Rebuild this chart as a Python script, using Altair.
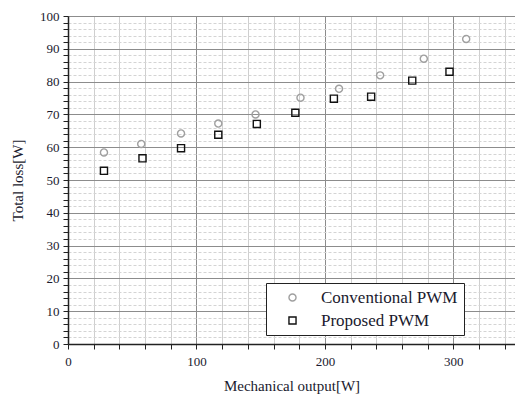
import altair as alt
import pandas as pd

conv_x = [28, 57, 88, 117, 146, 181, 211, 243, 277, 310]
conv_y = [58.4, 61.0, 64.2, 67.2, 70.0, 75.1, 77.8, 81.9, 87.0, 93.0]
prop_x = [28, 58, 88, 117, 147, 177, 207, 236, 268, 297]
prop_y = [52.8, 56.6, 59.7, 63.8, 67.1, 70.5, 74.8, 75.4, 80.3, 83.0]
series = ["Conventional PWM", "Proposed PWM"]
x_ticks = list(range(0, 341, 20))
y_ticks = list(range(0, 101, 2))

rows = [{"x": a, "y": b, "s": series[0]} for a, b in zip(conv_x, conv_y)]
rows += [{"x": a, "y": b, "s": series[1]} for a, b in zip(prop_x, prop_y)]
df = pd.DataFrame(rows)

FONT = "'Liberation Serif', 'Times New Roman', 'DejaVu Serif', serif"
TXT = "#1a1a2e"

xaxis = alt.Axis(
    values=x_ticks,
    labelExpr="datum.value % 100 === 0 ? datum.label : ''",
    title="Mechanical output[W]",
    grid=True,
    gridColor={"condition": {"test": "datum.value % 100 === 0", "value": "#8c8c8c"}, "value": "#cfcfcf"},
    gridWidth=1,
    tickSize=5,
    tickColor="#222",
    domainColor="#222",
    domainWidth=1.5,
    labelFont=FONT, labelFontSize=13, labelColor=TXT, labelPadding=6,
    titleFont=FONT, titleFontSize=15, titleFontWeight="normal", titleColor=TXT, titlePadding=10,
    labelFlush=False,
)
yaxis = alt.Axis(
    values=y_ticks,
    labelExpr="datum.value % 10 === 0 ? datum.label : ''",
    title="Total loss[W]",
    grid=True,
    gridColor={"condition": {"test": "datum.value % 10 === 0", "value": "#8c8c8c"}, "value": "#d4d4d4"},
    gridDash={"condition": {"test": "datum.value % 10 === 0", "value": []}, "value": [3, 2]},
    gridWidth=1,
    tickSize=5,
    tickColor="#222",
    domainColor="#222",
    domainWidth=1.5,
    labelFont=FONT, labelFontSize=13, labelColor=TXT, labelPadding=4,
    titleFont=FONT, titleFontSize=15, titleFontWeight="normal", titleColor=TXT, titlePadding=14,
    labelFlush=False,
)

leg = dict(title=None, orient="none", legendX=198, legendY=267,
           strokeColor="#222", fillColor="white", padding=6,
           symbolOffset=12, labelOffset=20, rowPadding=5,
           labelFont=FONT, labelFontSize=17, labelColor=TXT,
           symbolSize=50, symbolStrokeWidth=1.4, labelLimit=300)

chart = alt.Chart(df).mark_point(filled=False, size=50, strokeWidth=1.4, opacity=1).encode(
    x=alt.X("x:Q", scale=alt.Scale(domain=[0, 348], nice=False), axis=xaxis),
    y=alt.Y("y:Q", scale=alt.Scale(domain=[0, 100], nice=False), axis=yaxis),
    shape=alt.Shape("s:N", scale=alt.Scale(domain=series, range=["circle", "square"]),
                    legend=alt.Legend(**leg)),
    color=alt.Color("s:N", scale=alt.Scale(domain=series, range=["#a0a0a0", "#111111"]),
                    legend=alt.Legend(**leg)),
).properties(
    width=447, height=328,
    autosize=alt.AutoSizeParams(type="none"),
    padding={"left": 68, "top": 16, "right": 0, "bottom": 52},
).configure_view(stroke=None).configure(background="white")

chart.save("out.html", embed_options={"renderer": "svg", "actions": False})
